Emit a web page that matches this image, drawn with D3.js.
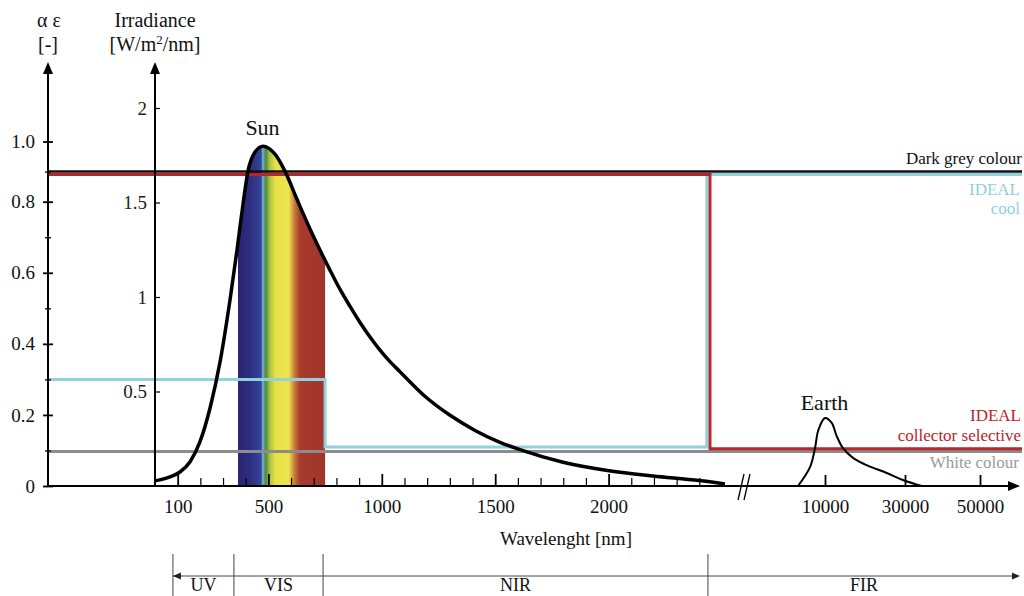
<!DOCTYPE html>
<html><head><meta charset="utf-8">
<script src="https://cdn.jsdelivr.net/npm/d3@7"></script>
<style>
body{margin:0;background:#fff}
svg{display:block}
svg text{font-family:"Liberation Serif","Times New Roman",Times,serif}
</style>
</head><body>
<svg id="c" width="1024" height="596"></svg>
<script>
// ---------------- data ----------------
const sunWavelength = [0, 66, 110, 154, 198, 243, 287, 331, 362, 388, 410, 441, 476, 529, 573, 626, 683, 728, 772, 816, 860, 904, 948, 992, 1036, 1080, 1190, 1301, 1411, 1521, 1609, 1799, 2002, 2196, 2399, 2513];
const sunIrradiance = [0.027, 0.048, 0.074, 0.127, 0.233, 0.414, 0.658, 0.987, 1.252, 1.491, 1.666, 1.767, 1.798, 1.756, 1.666, 1.517, 1.361, 1.247, 1.141, 1.040, 0.950, 0.865, 0.788, 0.719, 0.658, 0.605, 0.475, 0.374, 0.294, 0.231, 0.192, 0.126, 0.081, 0.053, 0.029, 0.011];

const earthWavelength = [3250, 6250, 7500, 8325, 10000, 11675, 12925, 14500, 17000, 20425, 25425, 29470, 34450];
const earthIrradiance = [0, 0.10, 0.20, 0.295, 0.36, 0.334, 0.264, 0.20, 0.149, 0.11, 0.069, 0.032, 0];

// absorptance / emittance step curves: values between break wavelengths
const darkGreyValues = [0.9];
const darkGreyBreaks = [];
const coolValues = [0.30, 0.11, 0.89];
const coolBreaks = [750, 2433];
const selectiveValues = [0.89, 0.105];
const selectiveBreaks = [2447];
const whiteValues = [0.097];
const whiteBreaks = [];

// visible band (rainbow) and spectral regions
const visStart = 366, visEnd = 750;
const rainbowWavelength = [366, 420, 468, 475, 482, 490, 505, 530, 590, 615, 640, 750];
const rainbowColor = ["#2a2372", "#2d2e80", "#33449a", "#7cb4dc", "#5a9a6a", "#4f8a3e", "#a8c043", "#e6e245", "#ece44e", "#c97b3d", "#a63a2c", "#a2352a"];

const regionNames = ["UV", "VIS", "NIR", "FIR"];
const regionEdges = [79, 348, 741, 2438];

const alphaTicks = [0, 0.2, 0.4, 0.6, 0.8, 1.0];
const alphaMinorTicks = [0.1, 0.3, 0.5, 0.7, 0.9];
const irrTicks = [0.5, 1, 1.5, 2];
const xMajorTicks = [100, 500, 1000, 1500, 2000];
const xMinorTicks = [200, 300, 400, 600, 700, 800, 900, 1100, 1200, 1300, 1400, 1600, 1700, 1800, 1900, 2100, 2200, 2300, 2400];
const xFarTicks = [10000, 30000, 50000];

// ---------------- layout ----------------
const FONT = '"Liberation Serif","Times New Roman",Times,serif';
const svg = d3.select("#c");
const baseY = 486, topY = 62, alphaX = 48, irrX = 155, rightX = 1020, lineEndX = 1022;

const alpha = d3.scaleLinear().domain([0, 0.8, 1.0]).range([baseY, 201.7, 141.5]);
const irr = d3.scaleLinear().domain([0, 2]).range([baseY, 108]);
const xNear = d3.scaleLinear().domain([0, 2000]).range([irrX, 608.6]);
const xFar = d3.scaleLinear().domain([10000, 30000, 50000]).range([825, 905, 980]);
const xw = l => l <= 2600 ? xNear(l) : xFar(l);

// defs: gradient + clip
const defs = svg.append("defs");
const grad = defs.append("linearGradient").attr("id", "rainbow")
  .attr("gradientUnits", "userSpaceOnUse")
  .attr("x1", xNear(visStart)).attr("x2", xNear(visEnd)).attr("y1", 0).attr("y2", 0);
rainbowWavelength.forEach((w, i) => {
  grad.append("stop").attr("offset", (w - visStart) / (visEnd - visStart)).attr("stop-color", rainbowColor[i]);
});
const sunPts = sunWavelength.map((w, i) => [w, sunIrradiance[i]]);
const area = d3.area().x(d => xNear(d[0])).y0(baseY).y1(d => irr(d[1])).curve(d3.curveMonotoneX);
defs.append("clipPath").attr("id", "sunclip").append("path").attr("d", area(sunPts));

// rainbow under sun curve
svg.append("rect").attr("clip-path", "url(#sunclip)")
  .attr("x", xNear(visStart)).attr("y", 100)
  .attr("width", xNear(visEnd) - xNear(visStart)).attr("height", baseY - 100)
  .attr("fill", "url(#rainbow)");

// step lines
function stepPoints(values, breaks) {
  const pts = [[alphaX, alpha(values[0])]];
  breaks.forEach((b, i) => {
    pts.push([xw(b), alpha(values[i])]);
    pts.push([xw(b), alpha(values[i + 1])]);
  });
  pts.push([lineEndX, alpha(values[values.length - 1])]);
  return pts;
}
const lineGen = d3.line();
svg.append("path").attr("d", lineGen(stepPoints(whiteValues, whiteBreaks)))
  .attr("fill", "none").attr("stroke", "#8c8c8c").attr("stroke-width", 3);
svg.append("path").attr("d", lineGen(stepPoints(coolValues, coolBreaks)))
  .attr("fill", "none").attr("stroke", "#92d0dc").attr("stroke-width", 3);
svg.append("path").attr("d", lineGen(stepPoints(selectiveValues, selectiveBreaks)))
  .attr("fill", "none").attr("stroke", "#b8252a").attr("stroke-width", 3);
svg.append("path").attr("d", lineGen(stepPoints(darkGreyValues, darkGreyBreaks)))
  .attr("fill", "none").attr("stroke", "#111").attr("stroke-width", 2.5);

// sun & earth curves
const curve = d3.line().x(d => xw(d[0])).y(d => irr(d[1])).curve(d3.curveMonotoneX);
svg.append("path").attr("d", curve(sunPts)).attr("fill", "none").attr("stroke", "#000").attr("stroke-width", 3.5);
const curveE = d3.line().x(d => xw(d[0])).y(d => irr(d[1])).curve(d3.curveCatmullRom);
svg.append("path").attr("d", curveE(earthWavelength.map((w, i) => [w, earthIrradiance[i]])))
  .attr("fill", "none").attr("stroke", "#000").attr("stroke-width", 2);

// axes lines with arrows
const axG = svg.append("g").attr("stroke", "#000");
axG.append("line").attr("x1", alphaX).attr("x2", alphaX).attr("y1", baseY + 1).attr("y2", topY + 8).attr("stroke-width", 2);
axG.append("line").attr("x1", irrX).attr("x2", irrX).attr("y1", baseY).attr("y2", topY + 8).attr("stroke-width", 2);
axG.append("line").attr("x1", alphaX - 1).attr("x2", rightX - 8).attr("y1", baseY).attr("y2", baseY).attr("stroke-width", 2);
function upArrow(x) { return `M${x},${topY} L${x - 5},${topY + 12} L${x + 5},${topY + 12} Z`; }
svg.append("path").attr("d", upArrow(alphaX)).attr("fill", "#000");
svg.append("path").attr("d", upArrow(irrX)).attr("fill", "#000");
svg.append("path").attr("d", `M${rightX},${baseY} L${rightX - 12},${baseY - 5} L${rightX - 12},${baseY + 5} Z`).attr("fill", "#000");

// alpha axis ticks
const fontTick = 19;
const aAx = svg.append("g").attr("transform", `translate(${alphaX},0)`)
  .call(d3.axisLeft(alpha).tickValues(alphaTicks).tickSize(5).tickPadding(8)
    .tickFormat(d => d === 0 ? "0" : d3.format(".1f")(d)));
aAx.attr("font-family", FONT);
aAx.select(".domain").remove();
aAx.selectAll(".tick line").attr("x1", 5).attr("stroke-width", 1.8);
aAx.selectAll("text").attr("font-size", fontTick).attr("fill", "#111");
const aMin = svg.append("g").attr("transform", `translate(${alphaX},0)`)
  .call(d3.axisLeft(alpha).tickValues(alphaMinorTicks).tickSize(3).tickFormat(""));
aMin.select(".domain").remove();
aMin.selectAll(".tick line").attr("x1", 3).attr("stroke-width", 1.3);

// irradiance axis
const iAx = svg.append("g").attr("transform", `translate(${irrX},0)`)
  .call(d3.axisLeft(irr).tickValues(irrTicks).tickSize(-5).tickPadding(8).tickFormat(d3.format("")));
iAx.attr("font-family", FONT);
iAx.select(".domain").remove();
iAx.selectAll(".tick line").attr("stroke-width", 1.2);
iAx.selectAll("text").attr("font-size", fontTick).attr("fill", "#222");

// x axis (near part)
const xAx = svg.append("g").attr("transform", `translate(0,${baseY})`)
  .call(d3.axisBottom(xNear).tickValues(xMajorTicks).tickSize(-12).tickPadding(13.5).tickFormat(d3.format("d")));
xAx.attr("font-family", FONT);
xAx.select(".domain").remove();
xAx.selectAll(".tick line").attr("stroke-width", 1.8);
xAx.selectAll("text").attr("font-size", fontTick).attr("fill", "#111");
const xMin = svg.append("g").attr("transform", `translate(0,${baseY})`)
  .call(d3.axisBottom(xNear).tickValues(xMinorTicks).tickSize(-8).tickFormat(""));
xMin.select(".domain").remove();
xMin.selectAll(".tick line").attr("stroke-width", 1.2);
// x axis (far part)
const xF = svg.append("g").attr("transform", `translate(0,${baseY})`)
  .call(d3.axisBottom(xFar).tickValues(xFarTicks).tickSize(-11).tickPadding(13.5).tickFormat(d3.format("d")));
xF.attr("font-family", FONT);
xF.select(".domain").remove();
xF.selectAll(".tick line").attr("stroke-width", 1.8);
xF.selectAll("text").attr("font-size", fontTick).attr("fill", "#111");

// break marks
svg.append("line").attr("x1", 738).attr("y1", 500).attr("x2", 744).attr("y2", 474).attr("stroke", "#000").attr("stroke-width", 1.3);
svg.append("line").attr("x1", 744).attr("y1", 500).attr("x2", 750).attr("y2", 474).attr("stroke", "#000").attr("stroke-width", 1.3);

// texts
function txt(x, y, s, opts = {}) {
  return svg.append("text").attr("x", x).attr("y", y).text(s)
    .attr("font-size", opts.size || 19).attr("fill", opts.fill || "#111")
    .attr("text-anchor", opts.anchor || "middle");
}
txt(49, 27, "α ε", {size: 20});
txt(48, 51, "[-]", {size: 20});
txt(155, 27, "Irradiance", {size: 20});
const u = txt(155, 51, "", {size: 20});
u.append("tspan").text("[W/m");
u.append("tspan").text("2").attr("font-size", 13).attr("dy", -7);
u.append("tspan").text("/nm]").attr("dy", 7);

txt(262.5, 135, "Sun", {size: 22});
txt(824.5, 410, "Earth", {size: 22});
txt(566, 545, "Wavelenght [nm]");

txt(lineEndX, 164, "Dark grey colour", {size: 17, anchor: "end"});
txt(1020, 195, "IDEAL", {size: 17, anchor: "end", fill: "#8fd0dc"});
txt(1020, 214, "cool", {size: 17, anchor: "end", fill: "#8fd0dc"});
txt(1021, 421, "IDEAL", {size: 17, anchor: "end", fill: "#b8252a"});
txt(1021, 441, "collector selective", {size: 17, anchor: "end", fill: "#b8252a"});
txt(1019, 468, "White colour", {size: 17, anchor: "end", fill: "#9a9a9a"});

// spectral regions row
const regY = 576;
const edgesPx = regionEdges.map(xNear).concat([rightX]);
const rg = svg.append("g").attr("stroke", "#444").attr("stroke-width", 1);
rg.append("line").attr("x1", edgesPx[0]).attr("x2", rightX - 6).attr("y1", regY).attr("y2", regY);
edgesPx.slice(0, 4).forEach(x => rg.append("line").attr("x1", x).attr("x2", x).attr("y1", 554).attr("y2", 596));
svg.append("path").attr("d", `M${edgesPx[0]},${regY} L${edgesPx[0] + 8},${regY - 3.5} L${edgesPx[0] + 8},${regY + 3.5} Z`).attr("fill", "#222");
svg.append("path").attr("d", `M${rightX},${regY} L${rightX - 8},${regY - 3.5} L${rightX - 8},${regY + 3.5} Z`).attr("fill", "#222");
regionNames.forEach((n, i) => {
  txt((edgesPx[i] + edgesPx[i + 1]) / 2, 591, n, {size: 18});
});
</script>
</body></html>
